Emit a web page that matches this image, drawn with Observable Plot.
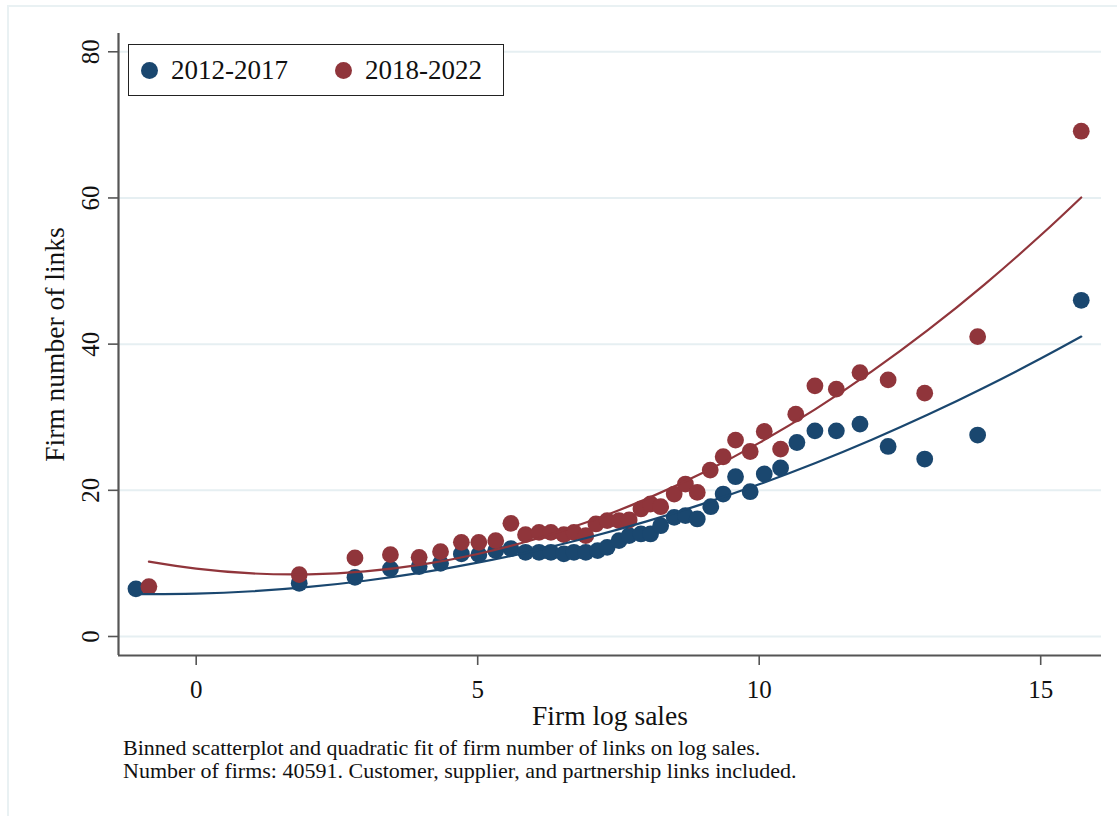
<!DOCTYPE html>
<html>
<head>
<meta charset="utf-8">
<script src="https://cdn.jsdelivr.net/npm/d3@7"></script>
<script src="https://cdn.jsdelivr.net/npm/@observablehq/plot@0.6"></script>
<style>
  html, body { margin: 0; padding: 0; background: #fff; }
  #wrap { position: relative; width: 1117px; height: 816px; overflow: hidden; font-family: "Liberation Serif", "Times New Roman", serif; color: #111; }
  #outer { position: absolute; left: 7px; top: 5px; width: 1200px; height: 900px; border-top: 2px solid #e9f1f3; border-left: 2px solid #e9f1f3; }
  #chart { position: absolute; left: 0; top: 0; }
  #legend { position: absolute; left: 128px; top: 44px; width: 374px; height: 50px; border: 1.6px solid #222; background: #fff; }
  .li { position: absolute; top: 0; height: 50px; display: flex; align-items: center; font-size: 27px; white-space: nowrap; }
  .sw { display: inline-block; width: 17px; height: 17px; border-radius: 50%; margin-right: 13px; }
  #caption { position: absolute; left: 123px; top: 736px; font-size: 22px; line-height: 23px; color: #111; white-space: nowrap; }
</style>
</head>
<body>
<div id="wrap">
  <div id="outer"></div>
  <div id="chart"></div>
  <div id="legend"></div>
  <div id="caption"></div>
</div>
<script>
// ---- data ----
const seriesNames = ["2012-2017", "2018-2022"];
const seriesColors = ["#1a476f", "#90353b"];

// binned means, 2012-2017
const blueX = [-1.07, 1.83, 2.82, 3.45, 3.96, 4.34, 4.71, 5.02, 5.32, 5.59, 5.85, 6.09, 6.30, 6.53, 6.71, 6.92, 7.13, 7.30, 7.51, 7.69, 7.90, 8.07, 8.25, 8.49, 8.69, 8.90, 9.14, 9.36, 9.58, 9.84, 10.09, 10.38, 10.67, 10.99, 11.37, 11.79, 12.29, 12.94, 13.88, 15.72];
const blueY = [6.52, 7.28, 8.10, 9.25, 9.56, 10.01, 11.30, 11.20, 11.75, 12.02, 11.52, 11.52, 11.52, 11.30, 11.52, 11.52, 11.75, 12.20, 13.11, 13.80, 14.03, 14.03, 15.16, 16.30, 16.53, 16.08, 17.76, 19.49, 21.86, 19.81, 22.23, 23.05, 26.54, 28.14, 28.14, 29.06, 26.00, 24.28, 27.56, 46.00];

// binned means, 2018-2022
const redX = [-0.84, 1.83, 2.82, 3.45, 3.96, 4.34, 4.71, 5.02, 5.32, 5.59, 5.85, 6.09, 6.30, 6.53, 6.71, 6.92, 7.10, 7.30, 7.51, 7.69, 7.90, 8.07, 8.25, 8.49, 8.69, 8.90, 9.13, 9.36, 9.58, 9.84, 10.09, 10.38, 10.65, 10.99, 11.37, 11.79, 12.29, 12.94, 13.88, 15.72];
const redY = [6.83, 8.47, 10.75, 11.20, 10.83, 11.61, 12.88, 12.88, 13.11, 15.48, 13.93, 14.25, 14.25, 13.93, 14.25, 13.80, 15.40, 15.85, 15.85, 15.94, 17.45, 18.13, 17.76, 19.49, 20.86, 19.71, 22.77, 24.59, 26.87, 25.31, 28.05, 25.64, 30.42, 34.29, 33.84, 36.11, 35.11, 33.29, 41.02, 69.13];

// quadratic fit lines
const fitBlueX = [-1.07, 0, 1, 2, 3, 4, 5, 6, 7, 8, 9, 10, 11, 12, 13, 14, 15, 15.72];
const fitBlueY = [5.80, 5.87, 6.19, 6.78, 7.63, 8.73, 10.10, 11.72, 13.61, 15.75, 18.15, 20.82, 23.74, 26.92, 30.36, 34.07, 38.03, 41.04];
const fitRedX = [-0.84, 0, 1, 2, 3, 4, 5, 6, 7, 8, 9, 10, 11, 12, 13, 14, 15, 15.72];
const fitRedY = [10.25, 9.29, 8.63, 8.51, 8.91, 9.83, 11.29, 13.27, 15.79, 18.83, 22.39, 26.49, 31.11, 36.27, 41.95, 48.15, 54.89, 60.07];

const xTicks = [0, 5, 10, 15];
const yTicks = [0, 20, 40, 60, 80];
const xDomain = [-1.38, 16.08];
const yDomain = [-2.6, 82.5];

const xTitle = "Firm log sales";
const yTitle = "Firm number of links";
const captionLines = [
  "Binned scatterplot and quadratic fit of firm number of links on log sales.",
  "Number of firms: 40591. Customer, supplier, and partnership links included."
];

// ---- build tables ----
const pts = (xs, ys, s) => xs.map((x, i) => ({x, y: ys[i], s}));
const bluePts = pts(blueX, blueY, seriesNames[0]);
const redPts = pts(redX, redY, seriesNames[1]);
const blueFit = pts(fitBlueX, fitBlueY, seriesNames[0]);
const redFit = pts(fitRedX, fitRedY, seriesNames[1]);

const font = "Liberation Serif, Times New Roman, serif";
const axisGray = "#555";

const chart = Plot.plot({
  width: 1117,
  height: 735,
  marginLeft: 118,
  marginRight: 16,
  marginTop: 33,
  marginBottom: 80,
  x: {domain: xDomain},
  y: {domain: yDomain},
  style: {fontFamily: font, background: "transparent", color: "#111", overflow: "visible"},
  marks: [
    Plot.gridY(yTicks, {stroke: "#e6eff2", strokeOpacity: 1, strokeWidth: 2}),
    Plot.dot(bluePts, {x: "x", y: "y", r: 8.4, fill: seriesColors[0], stroke: "none"}),
    Plot.dot(redPts, {x: "x", y: "y", r: 8.4, fill: seriesColors[1], stroke: "none"}),
    Plot.line(blueFit, {x: "x", y: "y", stroke: seriesColors[0], strokeWidth: 2.2, curve: "natural"}),
    Plot.line(redFit, {x: "x", y: "y", stroke: seriesColors[1], strokeWidth: 2.2, curve: "natural"}),
    Plot.ruleX([xDomain[0]], {stroke: axisGray, strokeWidth: 2.2}),
    Plot.ruleY([yDomain[0]], {stroke: axisGray, strokeWidth: 2.2}),
    Plot.axisX({ticks: xTicks, tickSize: 10, tickPadding: 15, fontSize: 25, stroke: axisGray, strokeWidth: 1.6, label: null, tickFormat: d => String(d)}),
    Plot.axisY({ticks: yTicks, tickSize: 10, stroke: axisGray, strokeWidth: 1.6, label: null, tickFormat: () => ""}),
    Plot.text(yTicks, {y: d => d, text: d => String(d), frameAnchor: "left", dx: -28, rotate: -90, fontSize: 25, fill: "#111", lineAnchor: "middle", textAnchor: "middle"}),
    Plot.text([xTitle], {text: d => d, frameAnchor: "bottom", dy: 61, fontSize: 27.5, fill: "#111", lineAnchor: "middle", textAnchor: "middle"}),
    Plot.text([yTitle], {text: d => d, frameAnchor: "left", dx: -63, rotate: -90, fontSize: 27.5, fill: "#111", lineAnchor: "middle", textAnchor: "middle"})
  ]
});
document.getElementById("chart").appendChild(chart);

// legend
const legend = document.getElementById("legend");
const legendLefts = [12, 206];
seriesNames.forEach((name, i) => {
  const item = document.createElement("div");
  item.className = "li";
  item.style.left = legendLefts[i] + "px";
  const sw = document.createElement("span");
  sw.className = "sw";
  sw.style.background = seriesColors[i];
  item.appendChild(sw);
  item.appendChild(document.createTextNode(name));
  legend.appendChild(item);
});

// caption
const cap = document.getElementById("caption");
captionLines.forEach(t => {
  const d = document.createElement("div");
  d.textContent = t;
  cap.appendChild(d);
});
</script>
</body>
</html>
